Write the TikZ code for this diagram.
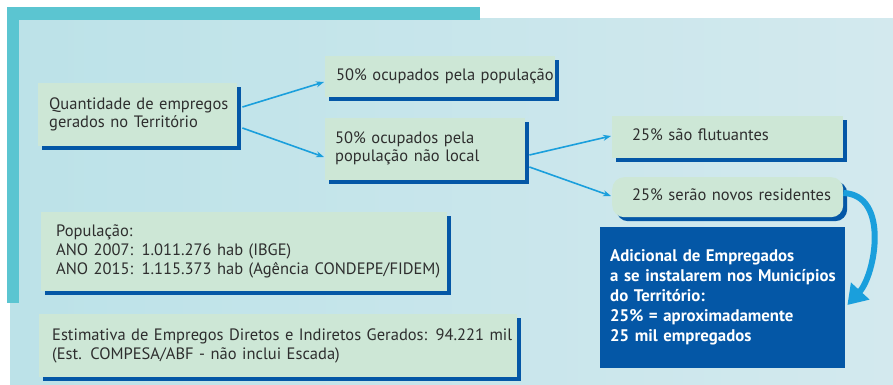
\documentclass[tikz,border=0pt]{standalone}
\usepackage{fontspec}
\setmainfont{PT Sans}
\usetikzlibrary{arrows.meta,shadows}
\definecolor{frameteal}{HTML}{5BC5D1}
\definecolor{boxgreen}{HTML}{CDE7D6}
\definecolor{deepblue}{HTML}{0457A6}
\definecolor{arrowblue}{HTML}{1A9FDC}
\definecolor{txtgray}{HTML}{2E2E2E}
\definecolor{panelleft}{HTML}{BCE2E8}
\definecolor{panelmid}{HTML}{E6F4F3}
\definecolor{panelright}{HTML}{D3E9EE}
\newcommand{\mlines}[1]{\begin{tabular}{@{}l@{}}#1\end{tabular}}
\begin{document}
\begin{tikzpicture}[x=1pt,y=-1pt,
  gbox/.style={fill=boxgreen, anchor=north west, align=left, text=txtgray,
    font=\fontsize{16.5}{18}\selectfont, inner ysep=0pt,
    drop shadow={shadow xshift=4pt, shadow yshift=-4pt, fill=deepblue, opacity=1}},
  thinarrow/.style={draw=arrowblue, line width=1.6pt, -{Stealth[length=8pt,width=6pt]}},
  bigarrow/.style={draw=arrowblue, line width=6pt, -{Triangle[length=19pt,width=24pt]}}
]
\useasboundingbox (0,0) rectangle (893,385);
% panel
\shade[left color=panelleft, middle color=panelmid, right color=panelright] (10,19) rectangle (893,385);
\fill[frameteal] (7,7) rectangle (480,20);
\fill[frameteal] (7,7) rectangle (19,303);

% boxes
\node[gbox, inner xsep=11pt, text width=177pt, minimum height=63pt] (b1) at (38,83)
  {\mlines{Quantidade de empregos\\gerados no Território}};
\node[gbox, inner xsep=11pt, text width=208pt, minimum height=41pt] (b2) at (325,56)
  {\mlines{50\% ocupados pela população}};
\node[gbox, inner xsep=10pt, text width=180pt, minimum height=62pt] (b3) at (325,118)
  {\mlines{50\% ocupados pela\\população não local}};
\node[gbox, inner xsep=20pt, text width=191pt, minimum height=42pt] (b4) at (612,116)
  {\mlines{25\% são flutuantes}};
\node[gbox, rounded corners=12pt, inner xsep=20pt, text width=191pt, minimum height=40pt] (b5) at (612,177)
  {\mlines{25\% serão novos residentes}};
\node[fill=deepblue, anchor=north west, align=left, text=white,
  font=\bfseries\fontsize{16.8}{20}\selectfont, inner xsep=10pt, inner ysep=0pt,
  text width=225pt, minimum height=141pt] (bb) at (600,227)
  {\mlines{Adicional de Empregados\\a se instalarem nos Municípios\\do Território:\\25\% = aproximadamente\\25 mil empregados}};
\node[gbox, inner xsep=15pt, text width=376pt, minimum height=79pt,
  font=\fontsize{16.5}{19}\selectfont] (pop) at (41,212)
  {\mlines{População:\\ANO 2007: 1.011.276 hab (IBGE)\\ANO 2015: 1.115.373 hab (Agência CONDEPE/FIDEM)}};
\node[gbox, inner xsep=13pt, text width=452pt, minimum height=63pt,
  font=\fontsize{16.5}{19}\selectfont] (est) at (39,314)
  {\mlines{Estimativa de Empregos Diretos e Indiretos Gerados: 94.221 mil\\(Est. COMPESA/ABF - não inclui Escada)}};

% connectors
\draw[thinarrow] ([shift={(5,24)}]b1.north east) -- ([shift={(-1,26)}]b2.north west);
\draw[thinarrow] ([shift={(5,45)}]b1.north east) -- ([shift={(-1,39)}]b3.north west);
\draw[thinarrow] ([shift={(4,37)}]b3.north east) -- ([shift={(-1,20)}]b4.north west);
\draw[thinarrow] ([shift={(4,49)}]b3.north east) -- ([shift={(-1,19)}]b5.north west);
\draw[bigarrow] ([shift={(0,16)}]b5.north east) .. controls (890,195) and (875,275) .. ([shift={(2,78)}]bb.north east);
\end{tikzpicture}
\end{document}
